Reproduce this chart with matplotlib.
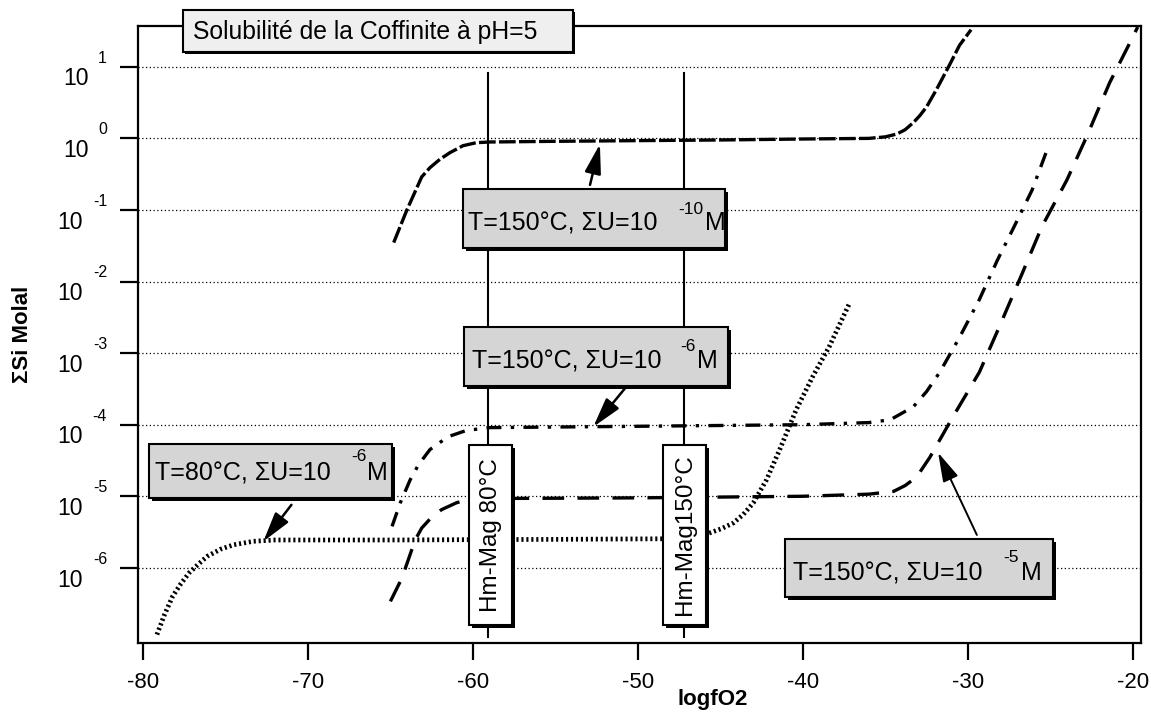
import matplotlib
matplotlib.use("Agg")
import matplotlib.pyplot as plt
from matplotlib.patches import Rectangle
import numpy as np

plt.rcParams['font.family'] = ['Liberation Sans', 'DejaVu Sans']
plt.rcParams['axes.unicode_minus'] = False

# ---------------- data (logfO2, sum Si molal) ----------------
# T=150°C, sum U = 1e-10 M
u10_x = [-64.8, -64.0, -63.1, -62.6, -62.0, -61.4, -60.6, -59.8, -59.0, -55.0, -50.0,
         -45.0, -40.0, -36.0, -35.0, -34.3, -33.8, -33.3, -32.9, -32.5, -31.9, -31.1,
         -30.5, -29.8]
u10_y = [3.5e-2, 1.0e-1, 2.9e-1, 3.9e-1, 5.1e-1, 6.3e-1, 7.9e-1, 8.7e-1, 8.9e-1, 9.1e-1,
         9.3e-1, 9.5e-1, 9.8e-1, 1.0, 1.05, 1.15, 1.32, 1.66, 2.09, 2.75, 4.8, 10.7,
         20.0, 33.0]

# T=150°C, sum U = 1e-6 M
u6_x = [-64.9, -64.4, -63.8, -63.3, -62.6, -61.5, -60.4, -59.0, -50.0, -40.0, -36.0,
        -34.7, -33.3, -32.5, -31.7, -30.5, -29.3, -28.2, -27.3, -26.1, -25.1]
u6_y = [3.8e-6, 8.1e-6, 1.7e-5, 2.75e-5, 4.5e-5, 6.8e-5, 8.3e-5, 9.1e-5, 9.5e-5, 1.0e-4,
        1.07e-4, 1.17e-4, 1.78e-4, 2.9e-4, 5.4e-4, 1.66e-3, 5.6e-3, 2.0e-2, 5.2e-2,
        1.9e-1, 7.9e-1]

# T=150°C, sum U = 1e-5 M
u5_x = [-65.0, -64.3, -63.5, -63.1, -62.5, -61.9, -61.0, -60.4, -59.0, -50.0, -40.0,
        -36.0, -34.5, -33.8, -33.1, -32.3, -30.9, -29.3, -28.1, -26.7, -25.5, -24.0,
        -22.8, -21.4, -20.0, -19.7]
u5_y = [3.4e-7, 7.2e-7, 2.45e-6, 3.6e-6, 5.1e-6, 6.5e-6, 8.1e-6, 8.9e-6, 9.3e-6, 9.5e-6,
        1.0e-5, 1.07e-5, 1.17e-5, 1.41e-5, 1.86e-5, 3.5e-5, 1.29e-4, 5.4e-4, 2.3e-3,
        1.3e-2, 5.9e-2, 2.6e-1, 1.05, 6.0, 26.0, 36.0]

# T=80°C, sum U = 1e-6 M
t80_x = [-79.15, -78.7, -78.2, -77.7, -77.2, -76.6, -76.1, -75.3, -74.5, -73.3, -72.0,
         -65.0, -55.0, -48.0, -46.5, -45.6, -44.9, -44.2, -43.6, -43.0, -42.2, -41.4,
         -40.4, -39.4, -38.4, -37.2]
t80_y = [1.17e-7, 2.2e-7, 4.0e-7, 6.0e-7, 8.5e-7, 1.15e-6, 1.45e-6, 1.82e-6, 2.1e-6,
         2.35e-6, 2.45e-6, 2.45e-6, 2.5e-6, 2.55e-6, 2.7e-6, 3.1e-6, 3.55e-6, 4.25e-6,
         5.6e-6, 8.1e-6, 1.7e-5, 4.5e-5, 1.62e-4, 4.7e-4, 1.23e-3, 4.8e-3]

# Hematite-Magnetite boundaries (80°C, 150°C)
hm_x = [-59.1, -47.2]
hm_labels = ['Hm-Mag 80°C', 'Hm-Mag150°C']

x_ticks = [-80, -70, -60, -50, -40, -30, -20]
x_ticklabels = ['-80', '-70', '-60', '-50', '-40', '-30', '-20']
y_exponents = [1, 0, -1, -2, -3, -4, -5, -6]

# ---------------- figure ----------------
W, H = 1151, 716
fig = plt.figure(figsize=(W / 100, H / 100), dpi=100)
fig.patch.set_facecolor('white')


def fx(px):
    return px / W


def fy(py):
    return 1 - py / H


ax_l, ax_r, ax_t, ax_b = 138, 1141, 26, 643
ax = fig.add_axes([fx(ax_l), fy(ax_b), (ax_r - ax_l) / W, (ax_b - ax_t) / H])
ax.set_yscale('log')
ax.set_xlim(-80.3, -19.5)
ax.set_ylim(10 ** -7.05, 10 ** 1.57)

for s in ax.spines.values():
    s.set_linewidth(1.6)

ax.set_xticks(x_ticks)
ax.set_xticklabels(x_ticklabels, fontsize=16)
ax.tick_params(axis='x', direction='out', length=12, width=1.6, pad=9)
yt = [10.0 ** e for e in y_exponents]
ax.set_yticks(yt)
ax.set_yticklabels([''] * len(yt))
ax.yaxis.set_minor_locator(matplotlib.ticker.NullLocator())
ax.tick_params(axis='y', direction='out', length=13, width=1.6)

ax.grid(axis='y', which='major', color='k', linestyle=(0, (1, 2)), linewidth=0.9)
ax.set_axisbelow(True)

# y tick labels: "10" with raised exponent
for e, v in zip(y_exponents, yt):
    ex = ax.annotate(str(e), xy=(0, v), xycoords=('axes fraction', 'data'),
                     xytext=(-22.3, 3.0), textcoords='offset points',
                     ha='right', va='baseline', fontsize=11.5)
    ax.annotate('10', xy=(0, v), xycoords=(ex, 'data'),
                xytext=(-7, -0.5), textcoords='offset points',
                ha='right', va='top', fontsize=16.5, annotation_clip=False)

ax.set_xlabel('logfO2', fontsize=16, fontweight='bold')
ax.xaxis.set_label_coords((713 - ax_l) / (ax_r - ax_l), -(689 - ax_b) / (ax_b - ax_t))
ax.set_ylabel('ΣSi Molal', fontsize=16, fontweight='bold')
ax.yaxis.label.set_va('center')
ax.yaxis.set_label_coords((23 - ax_l) / (ax_r - ax_l), 0.5)

# vertical Hm-Mag lines
for xv in hm_x:
    ax.plot([xv, xv], [10 ** -6.97, 10 ** 0.92], color='k', lw=1.5, zorder=2)

# curves
ax.plot(u10_x, u10_y, color='k', lw=2.4, linestyle=(0, (5, 1)), zorder=3)
ax.plot(u6_x, u6_y, color='k', lw=2.4, linestyle=(0, (4.5, 2.8, 1, 2.8)), zorder=3)
ax.plot(u5_x, u5_y, color='k', lw=2.4, linestyle=(0, (6.5, 4)), zorder=3)
ax.plot(t80_x, t80_y, color='k', lw=3.4, linestyle=(0, (0.45, 0.6)), zorder=3)

# arrows
ap = dict(arrowstyle='-|>,head_length=0.9,head_width=0.25', color='k', lw=1.8,
          mutation_scale=20, shrinkA=0, shrinkB=0)
ax.annotate('', xy=(-52.3, 10 ** -0.08), xytext=(-52.9, 10 ** -0.65), arrowprops=ap, zorder=4)
ax.annotate('', xy=(-52.7, 10 ** -4.03), xytext=(-50.7, 10 ** -3.47), arrowprops=ap, zorder=4)
ax.annotate('', xy=(-72.7, 10 ** -5.63), xytext=(-71.0, 10 ** -5.12), arrowprops=ap, zorder=4)
ap2 = dict(ap)
ap2['lw'] = 1.4
ax.annotate('', xy=(-31.8, 10 ** -4.39), xytext=(-29.45, 10 ** -5.54), arrowprops=ap2, zorder=4)


# boxes with shadow
def box(x0, y0, x1, y1, fc, shadow=3):
    fig.add_artist(Rectangle((fx(x0 + shadow), fy(y1 + shadow)), (x1 - x0) / W,
                             (y1 - y0) / H, transform=fig.transFigure,
                             fc='k', ec='none', zorder=5))
    fig.add_artist(Rectangle((fx(x0), fy(y1)), (x1 - x0) / W, (y1 - y0) / H,
                             transform=fig.transFigure, fc=fc, ec='k', lw=1.5, zorder=6))


def txt(px, py, s, size, **kw):
    fig.text(fx(px), fy(py), s, fontsize=size, ha=kw.pop('ha', 'left'),
             va=kw.pop('va', 'baseline'), zorder=7, **kw)


GRAY = '#d5d5d5'
# title
box(183, 10, 573, 52, '#efefef', shadow=2)
txt(193, 39, 'Solubilité de la Coffinite à pH=5', 17.8)

# label boxes: (box, main text, superscript, M)
labels = [
    ((463, 189, 725, 248), (468, 230, 'T=150°C, ΣU=10'), (678, 214, '-10'), (705, 230)),
    ((464, 327, 728, 386), (472, 368, 'T=150°C, ΣU=10'), (680, 351, '-6'), (697, 368)),
    ((149, 444, 392, 498), (155, 480, 'T=80°C, ΣU=10'), (351, 461, '-6'), (367, 480)),
    ((785, 539, 1053, 597), (793, 580, 'T=150°C, ΣU=10'), (1003, 562, '-5'), (1021, 580)),
]
for (b, m, sp, mm) in labels:
    box(*b, GRAY)
    txt(m[0], m[1], m[2], 18)
    txt(sp[0], sp[1], sp[2], 12.5)
    txt(mm[0], mm[1], 'M', 18)

# Hm-Mag boxes
for (x0, x1), lab in zip([(469, 512), (663, 706)], hm_labels):
    box(x0, 445, x1, 625, 'white', shadow=3)
    txt((x0 + x1) / 2, 535, lab, 17.5, ha='center', va='center', rotation=90)

fig.savefig('out.png', dpi=100, facecolor='white')
